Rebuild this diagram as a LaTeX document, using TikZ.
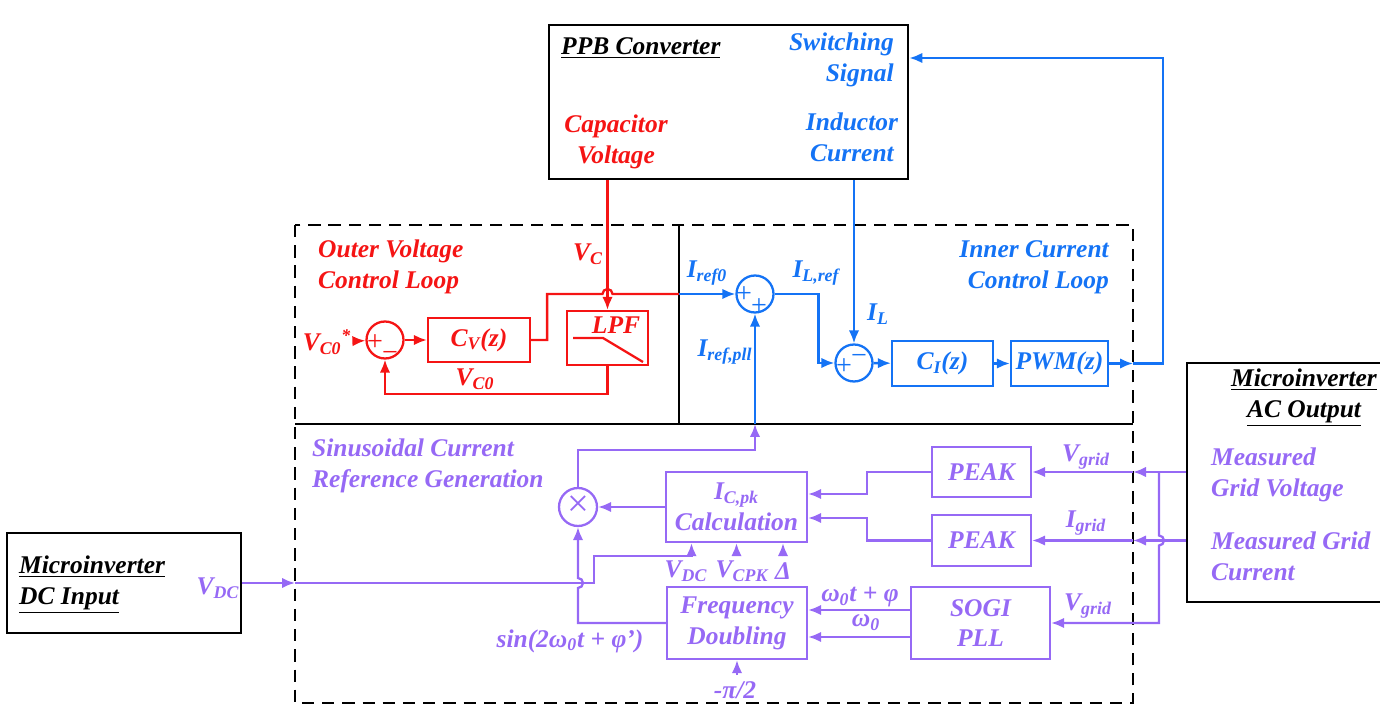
\documentclass[tikz,border=0pt]{standalone}
\usepackage{fontspec}
\setmainfont{Liberation Serif}
\usepackage{tikz}
\usetikzlibrary{arrows.meta, calc}
\definecolor{loopred}{RGB}{245, 20, 20}
\definecolor{loopblue}{RGB}{20, 115, 245}
\definecolor{refpurple}{RGB}{150, 105, 245}
\tikzset{every node/.style={font=\fontsize{14.5}{17.5}\selectfont\bfseries\itshape}, >={Latex[length=2.6mm, width=2.1mm]}}

\begin{document}
\begin{tikzpicture}[
    x=0.02cm, y=-0.02cm,
    block/.style={
        draw,
        line width=1.3pt,
        align=center,
        inner sep=2pt
    },
    outerbox/.style={
        draw,
        line width=1.6pt
    },
    sum/.style={
        draw,
        circle,
        line width=1.3pt,
        minimum size=0.74cm,
        inner sep=0pt
    },
    sign/.style={
        font=\normalfont\fontsize{16}{16}\selectfont,
        inner sep=0pt,
        text height=0.55em,
        text depth=0pt
    },
    wire/.style={
        line width=1.3pt
    },
    frame/.style={
        line width=1.3pt,
        dash pattern=on 7pt off 4.5pt
    }
]
\useasboundingbox (0,0) rectangle (1380,709);

\node[outerbox, minimum width=7.18cm, minimum height=3.08cm] (ppb) at (728.5,102) {};
\node[anchor=west] (ppbname) at (555,48) {\underline{PPB Converter}};
\node[loopblue, anchor=east, align=right] (swsig) at (900,60) {Switching\\Signal};
\node[loopred, align=center] (capv) at (616,142) {Capacitor\\Voltage};
\node[loopblue, align=center] (indc) at (852,137) {Inductor\\Current};

\draw[frame] (295,225) rectangle (1133,703);
\draw[line width=1.3pt] (679,225) -- (679,424);
\draw[line width=1.3pt] (295,424) -- (1133,424);

\node[loopred, anchor=west, align=left] (outerlbl) at (312,267) {Outer Voltage\\Control Loop};
\node[loopred] (vref) at (327,342) {V\textsubscript{C0}\textsuperscript{*}};
\node[sum, loopred] (sumv) at (385,340) {};
\node[sign, loopred] (sumvp) at (375,346) {+};
\node[sign, loopred] (sumvm) at (390,357) {−};
\node[block, loopred, minimum width=2.04cm, minimum height=0.88cm] (cv) at (479,340) {C\textsubscript{V}(z)};
\node[block, loopred, minimum width=1.62cm, minimum height=1.08cm] (lpf) at (607.5,338) {};
\node[loopred] (lpftxt) at (616,325) {LPF};
\draw[wire, loopred] ([xshift=-0.69cm]lpf.center) -- ([xshift=-0.09cm]lpf.center) -- ([xshift=0.71cm, yshift=-0.48cm]lpf.center);
\node[loopred] (vclbl) at (588,254) {V\textsubscript{C}};
\node[loopred] (vc0lbl) at (475,379) {V\textsubscript{C0}};
\coordinate (vsplit) at (679,294);

\draw[wire, loopred, ->] (lpf.north |- ppb.south) -- (lpf.north);
\draw[wire, loopred, ->] (vref) -- (sumv);
\draw[wire, loopred, ->] (sumv) -- (cv);
\draw[wire, loopred] (cv.east) -- ++(16,0) |- ($(lpf.north |- vsplit)+(-5,0)$) arc[start angle=180, end angle=0, radius=0.1cm] -- (vsplit);
\draw[wire, loopred, ->] (lpf.south) -- ++(0,28) -| (sumv.south);

\node[loopblue, anchor=east, align=right] (innerlbl) at (1115,267) {Inner Current\\Control Loop};
\node[sum, loopblue] (sumi) at (755,294) {};
\node[sign, loopblue] (sumip1) at (744,298) {+};
\node[sign, loopblue] (sumip2) at (759,310) {+};
\node[sum, loopblue] (sumil) at (854,363) {};
\node[sign, loopblue] (sumilp) at (844,370) {+};
\node[sign, loopblue] (sumilm) at (859,360) {−};
\node[block, loopblue, minimum width=2.02cm, minimum height=0.9cm] (ci) at (942.5,363.5) {C\textsubscript{I}(z)};
\node[block, loopblue, minimum width=1.94cm, minimum height=0.9cm] (pwm) at (1059.5,363.5) {PWM(z)};
\node[loopblue] (iref0) at (707,273) {I\textsubscript{ref0}};
\node[loopblue] (ilref) at (816,273) {I\textsubscript{L,ref}};
\node[loopblue] (illbl) at (878,314) {I\textsubscript{L}};
\node[loopblue] (ipll) at (725,352) {I\textsubscript{ref,pll}};
\coordinate (pllx) at (755,424);
\coordinate (pwmx) at (1133,363.5);
\coordinate (fbtop) at (1163,58);

\draw[wire, loopblue, ->] (vsplit) -- (sumi);
\draw[wire, loopblue, ->] (sumi.east) -| ([xshift=-0.32cm]sumil.west) -- (sumil.west);
\draw[wire, loopblue, ->] (sumil.north |- ppb.south) -- (sumil.north);
\draw[wire, loopblue, ->] (sumil) -- (ci);
\draw[wire, loopblue, ->] (ci) -- (pwm);
\draw[wire, loopblue, ->] (pwm) -- (pwmx);
\draw[wire, loopblue, ->] (pwmx) -| (fbtop) -- (ppb.east |- fbtop);
\draw[wire, loopblue, ->] (pllx) -- (sumi.south);

\node[refpurple, anchor=west, align=left] (sinlbl) at (306,466) {Sinusoidal Current\\Reference Generation};
\node[sum, refpurple, minimum size=0.76cm] (mult) at (578,507) {};
\node[refpurple, font=\normalfont\fontsize{22}{22}\selectfont, inner sep=0pt] (multx) at (578,506) {×};
\node[block, refpurple, minimum width=2.82cm, minimum height=1.4cm] (calc) at (736.5,507) {I\textsubscript{C,pk}\\Calculation};
\node[block, refpurple, minimum width=2.8cm, minimum height=1.44cm] (fdbl) at (737,623) {Frequency\\Doubling};
\node[block, refpurple, minimum width=1.98cm, minimum height=1cm] (peakv) at (981.5,472) {PEAK};
\node[block, refpurple, minimum width=1.98cm, minimum height=1.02cm] (peaki) at (981.5,540.5) {PEAK};
\node[block, refpurple, minimum width=2.78cm, minimum height=1.44cm] (sogi) at (980.5,623) {SOGI\\PLL};

\node[outerbox, minimum width=4.68cm, minimum height=2cm] (dcin) at (124,583) {};
\node[anchor=west, align=left] (dclbl) at (13,585) {\underline{Microinverter}\\\underline{DC Input}};
\node[refpurple] (vdclbl) at (218,588) {V\textsubscript{DC}};
\node[outerbox, minimum width=4.16cm, minimum height=4.78cm] (acout) at (1291,482.5) {};
\node[align=center] (aclbl) at (1304,398) {\underline{Microinverter}\\\underline{AC Output}};
\node[refpurple, anchor=west, align=left] (gvlbl) at (1205,475) {Measured\\Grid Voltage};
\node[refpurple, anchor=west, align=left] (gilbl) at (1205,556) {Measured Grid\\Current};

\node[refpurple] (vgrid1) at (1086,457) {V\textsubscript{grid}};
\node[refpurple] (igrid) at (1086,523) {I\textsubscript{grid}};
\node[refpurple] (vgrid2) at (1088,606) {V\textsubscript{grid}};
\node[refpurple] (wtlbl) at (860,597) {ω\textsubscript{0}t + φ};
\node[refpurple] (wlbl) at (866,623) {ω\textsubscript{0}};
\node[refpurple] (sinarg) at (570,641) {sin(2ω\textsubscript{0}t + φ’)};
\node[refpurple] (mpilbl) at (735,690) {-π/2};
\node[refpurple] (vdcc) at (686,571) {V\textsubscript{DC}};
\node[refpurple] (vcpk) at (742,571) {V\textsubscript{CPK}};
\node[refpurple] (dlt) at (783,571) {Δ};

\coordinate (dcx) at (295,583);
\coordinate (pllbend) at (755,450);
\coordinate (fdcross) at (578,583);
\coordinate (gvx) at (1133,472);
\coordinate (gix) at (1133,540.5);
\coordinate (gtap) at (1159,472);
\coordinate (gcross) at (1159,540.5);

\draw[wire, refpurple, ->] (dcin.east) -- (dcx);
\draw[wire, refpurple, ->] (dcx) -- ++(299,0) |- ($(calc.south)+(-45,13)$) -- ($(calc.south)+(-45,0)$);
\draw[wire, refpurple, ->] (calc.south |- vcpk.north) -- (calc.south);
\draw[wire, refpurple, ->] (dlt.north) -- (dlt.north |- calc.south);
\draw[wire, refpurple, ->] (mult.north) |- (pllbend) -- (pllx);
\draw[wire, refpurple, ->] (calc) -- (mult);
\draw[wire, refpurple, ->] (fdbl.west) -| ($(fdcross)+(0,5)$) arc[start angle=-90, end angle=90, radius=0.1cm] -- (mult.south);
\draw[wire, refpurple, ->] (fdbl.south |- mpilbl.north) -- (fdbl.south);
\draw[wire, refpurple, ->] (peakv.west) -- ++(-64,0) |- ($(calc.east)+(0,-13)$);
\draw[wire, refpurple, ->] (peaki.west) -- ++(-64,0) |- ($(calc.east)+(0,11)$);
\draw[wire, refpurple, ->] ($(sogi.west)+(0,-13)$) -- ($(fdbl.east)+(0,-13)$);
\draw[wire, refpurple, ->] ($(sogi.west)+(0,14)$) -- ($(fdbl.east)+(0,14)$);
\draw[wire, refpurple, ->] (acout.west |- gvx) -- (gvx);
\draw[wire, refpurple, ->] (gvx) -- (peakv.east);
\draw[wire, refpurple, ->] (acout.west |- gix) -- (gix);
\draw[wire, refpurple, ->] (gix) -- (peaki.east);
\draw[wire, refpurple, ->] (gtap) -- ($(gcross)+(0,-5)$) arc[start angle=90, end angle=-90, radius=0.1cm] |- (sogi.east);

\end{tikzpicture}
\end{document}
